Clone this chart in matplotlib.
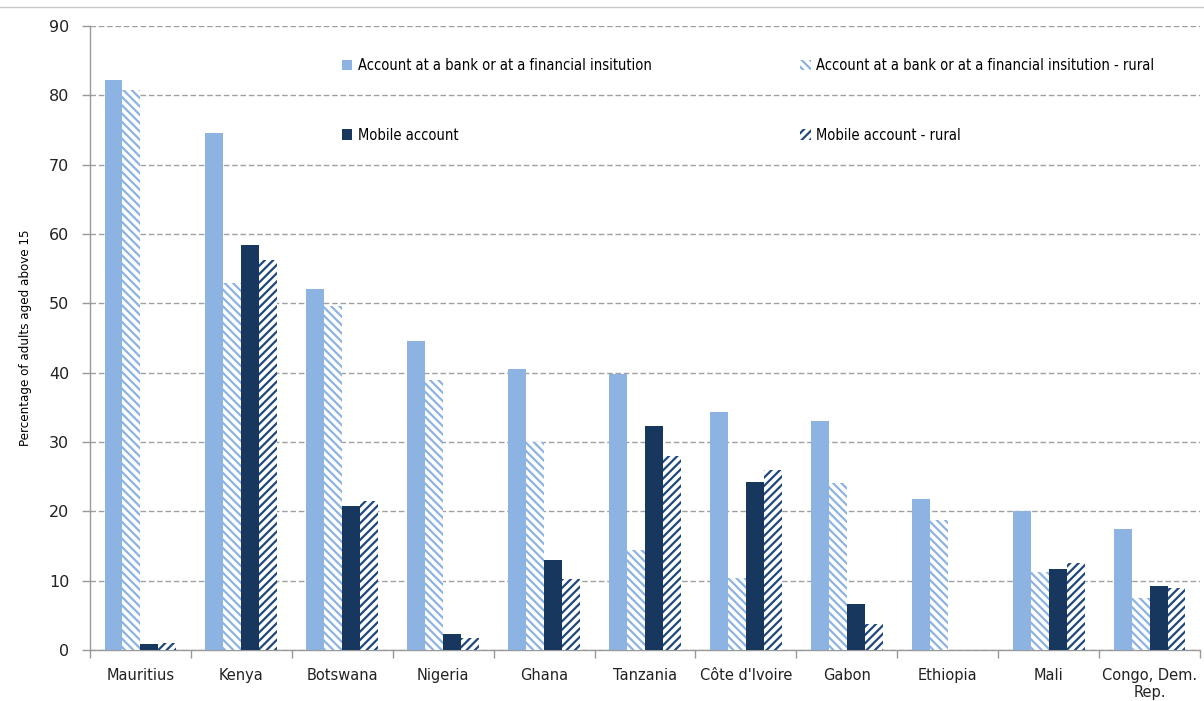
import matplotlib
matplotlib.use("Agg")
import matplotlib.pyplot as plt
import numpy as np
from matplotlib.lines import Line2D
from matplotlib.patches import Patch
from matplotlib import font_manager

countries = ["Mauritius", "Kenya", "Botswana", "Nigeria", "Ghana", "Tanzania",
             "Côte d'Ivoire", "Gabon", "Ethiopia", "Mali", "Congo, Dem.\nRep."]
bank = [82.2, 74.6, 52.0, 44.5, 40.5, 39.8, 34.3, 33.0, 21.8, 20.1, 17.5]
bank_rural = [80.7, 53.0, 49.6, 39.0, 30.0, 14.4, 10.4, 24.1, 18.7, 11.2, 7.5]
mobile = [0.8, 58.4, 20.8, 2.3, 13.0, 32.3, 24.2, 6.6, 0.0, 11.7, 9.2]
mobile_rural = [1.0, 56.3, 21.5, 1.8, 10.2, 28.0, 26.0, 3.8, 0.0, 12.5, 9.0]
yticks = [0, 10, 20, 30, 40, 50, 60, 70, 80, 90]

light = "#8DB3E2"
navy = "#17375E"
navy_h = "#1F497D"

fonts = font_manager.fontManager.ttflist
cond = [f for f in fonts if f.name == "DejaVu Sans" and f.stretch == "condensed" and f.weight in (400, "normal") and f.style == "normal"]
narrow_prop = font_manager.FontProperties(fname=cond[0].fname) if cond else font_manager.FontProperties(family="DejaVu Sans")

plt.rcParams["hatch.linewidth"] = 1.6

fig = plt.figure(figsize=(12.04, 7.01), dpi=100)
ax = fig.add_axes([90/1204, 51/701, 1110/1204, 624/701])

x = np.arange(len(countries))
w = 0.178
offs = [-1.5*w, -0.5*w, 0.5*w, 1.5*w]
hb = "\\\\\\\\"
hm = "////"

ax.bar(x + offs[0], bank, w, color=light, edgecolor="none", zorder=3)
ax.bar(x + offs[1], bank_rural, w, color="white", edgecolor=light, hatch=hb, linewidth=0, zorder=3)
ax.bar(x + offs[2], mobile, w, color=navy, edgecolor="none", zorder=3)
ax.bar(x + offs[3], mobile_rural, w, color="white", edgecolor=navy_h, hatch=hm, linewidth=0, zorder=3)

ax.set_xlim(-0.5, len(countries) - 0.5)
ax.set_ylim(0, 90)
ax.set_yticks(yticks)
ax.set_yticklabels([str(v) for v in yticks], fontsize=11.5, color="#222222")
ax.set_xticks(x)
ax.set_xticklabels(countries, fontsize=10.5, color="#222222")
ax.tick_params(axis="x", length=0, pad=13)
ax.set_xticks(np.arange(len(countries) + 1) - 0.5, minor=True)
ax.tick_params(axis="x", which="minor", length=6, color="#999999", width=1)
ax.tick_params(axis="y", length=6, color="#999999", width=1, pad=9)

ax.yaxis.grid(True, linestyle=(0, (4, 2)), color="#A0A0A0", linewidth=1, zorder=0)
for s in ["top", "right"]:
    ax.spines[s].set_visible(False)
for s in ["left", "bottom"]:
    ax.spines[s].set_color("#999999")
    ax.spines[s].set_linewidth(1)

ylp = narrow_prop.copy()
ylp.set_size(9.5)
ax.set_ylabel("Percentage of adults aged above 15", fontproperties=ylp, labelpad=12)

handles = [Patch(facecolor=light, edgecolor="none"),
           Patch(facecolor=navy, edgecolor="none"),
           Patch(facecolor="white", edgecolor=light, hatch=hb, linewidth=0),
           Patch(facecolor="white", edgecolor=navy_h, hatch=hm, linewidth=0)]
labels = ["Account at a bank or at a financial insitution", "Mobile account",
          "Account at a bank or at a financial insitution - rural", "Mobile account - rural"]
lp = narrow_prop.copy()
lp.set_size(10.5)
leg = ax.legend(handles, labels, ncol=2, frameon=False, loc="upper left",
                bbox_to_anchor=(0.215, 0.97), prop=lp,
                handlelength=0.7, handleheight=0.7, handletextpad=0.4,
                columnspacing=10.2, labelspacing=3.75)

fig.add_artist(Line2D([0, 1], [1 - 7/701, 1 - 7/701], transform=fig.transFigure,
                      color="#C8C8C8", linewidth=1))

fig.savefig("out.png", dpi=100)
